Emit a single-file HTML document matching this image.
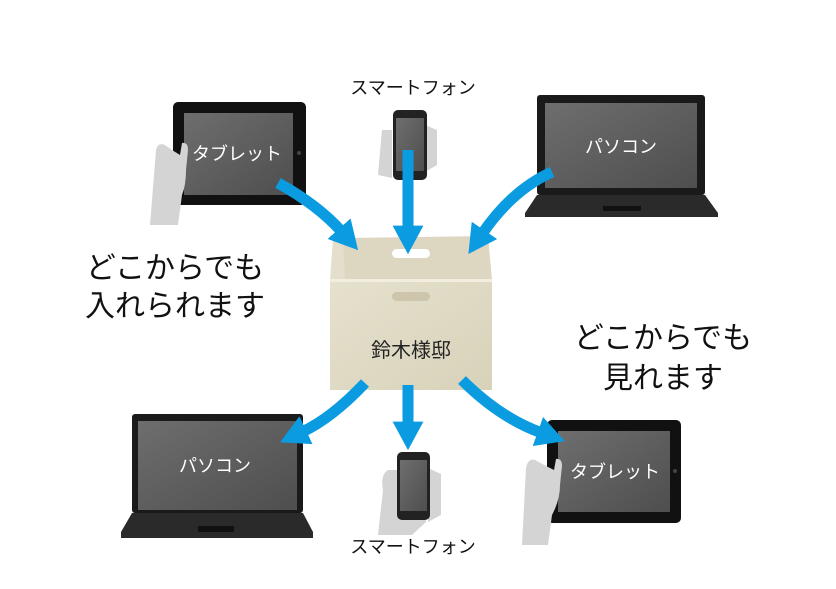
<!DOCTYPE html>
<html><head><meta charset="utf-8"><style>
html,body{margin:0;padding:0;background:#fff;}
svg{display:block}
text{font-family:"Liberation Sans","Noto Sans CJK JP",sans-serif;}
</style></head><body>
<svg width="836" height="589" viewBox="0 0 836 589" xmlns="http://www.w3.org/2000/svg">
<defs>
<linearGradient id="scr" x1="0" y1="0" x2="1" y2="1"><stop offset="0" stop-color="#6e6e6e"/><stop offset="1" stop-color="#4e4e4e"/></linearGradient>
<linearGradient id="box" x1="0" y1="0" x2="1" y2="1"><stop offset="0" stop-color="#e6e1cd"/><stop offset="1" stop-color="#d8d2ba"/></linearGradient>
<marker id="ah" markerWidth="2.6" markerHeight="2.8" refX="0.4" refY="1.4" orient="auto" markerUnits="strokeWidth"><path d="M0,0 L2.6,1.4 L0,2.8 z" fill="#0b9be0"/></marker>
</defs>

<!-- Top tablet -->
<rect x="173" y="102" width="133" height="103" rx="5" fill="#111"/>
<rect x="184" y="113" width="109" height="82" fill="url(#scr)"/>
<circle cx="299" cy="153" r="2" fill="#444"/>
<path d="M165,145 Q158,142 156,150 L150,225 L178,225 L182,195 Q186,185 186,170 L188,150 Q188,142 182,143 L180,155 L172,150 Z" fill="#d4d4d4"/>
<text x="237" y="160" font-size="18" fill="#fff" text-anchor="middle">タブレット</text>

<!-- Top phone -->
<path d="M382,130 L378,175 L392,178 L392,130 Z" fill="#d4d4d4"/>
<path d="M425,125 L437,130 L437,165 L425,172 Z" fill="#d4d4d4"/>
<rect x="393" y="110" width="34" height="70" rx="5" fill="#222"/>
<rect x="396" y="118" width="28" height="53" fill="url(#scr)"/>
<text x="413" y="94" font-size="18" fill="#111" text-anchor="middle">スマートフォン</text>

<!-- Top laptop -->
<rect x="537" y="95" width="168" height="100" rx="3" fill="#1a1a1a"/>
<rect x="545" y="103" width="152" height="85" fill="url(#scr)"/>
<path d="M537,195 L705,195 L718,213 L718,217 L525,217 L525,213 Z" fill="#2a2a2a"/>
<rect x="603" y="206" width="38" height="5" fill="#111"/>
<text x="621" y="153" font-size="18" fill="#fff" text-anchor="middle">パソコン</text>

<!-- Box -->
<path d="M343,238 L488,236 L492,280 L330,280 Z" fill="#ddd7c2"/>
<path d="M333,238 L343,238 L345,280 L330,280 Z" fill="#e4dfcc"/>
<rect x="392" y="249" width="38" height="9" rx="4.5" fill="#fff"/>
<rect x="330" y="280" width="162" height="110" fill="url(#box)"/>
<rect x="330" y="279" width="162" height="3" fill="#f1eee0"/>
<rect x="392" y="292" width="38" height="9" rx="4.5" fill="#cdc6ad"/>
<text x="411" y="357" font-size="20" fill="#222" text-anchor="middle">鈴木様邸</text>

<!-- Text -->
<text x="175" y="278" font-size="30" fill="#111" text-anchor="middle">どこからでも</text>
<text x="175" y="316" font-size="30" fill="#111" text-anchor="middle">入れられます</text>
<text x="663" y="348" font-size="30" fill="#111" text-anchor="middle">どこからでも</text>
<text x="663" y="388" font-size="30" fill="#111" text-anchor="middle">見れます</text>

<!-- Bottom laptop -->
<rect x="132" y="414" width="171" height="99" rx="3" fill="#1a1a1a"/>
<rect x="138" y="421" width="159" height="89" fill="url(#scr)"/>
<path d="M132,513 L303,513 L313,532 L313,538 L121,538 L121,532 Z" fill="#2a2a2a"/>
<rect x="198" y="526" width="36" height="6" fill="#111"/>
<text x="215" y="472" font-size="18" fill="#fff" text-anchor="middle">パソコン</text>

<!-- Bottom phone -->
<path d="M388,470 Q380,475 383,490 L378,535 L412,535 L426,522 L425,470 Z" fill="#d4d4d4"/>
<path d="M428,468 L441,474 L441,515 L428,522 Z" fill="#d4d4d4"/>
<rect x="397" y="452" width="33" height="68" rx="5" fill="#222"/>
<rect x="400" y="460" width="27" height="51" fill="url(#scr)"/>
<text x="413" y="553" font-size="18" fill="#111" text-anchor="middle">スマートフォン</text>

<!-- Bottom tablet -->
<rect x="547" y="420" width="134" height="103" rx="5" fill="#111"/>
<rect x="558" y="431" width="112" height="81" fill="url(#scr)"/>
<circle cx="675" cy="471" r="2" fill="#444"/>
<path d="M535,460 Q528,458 526,468 L522,545 L548,545 L552,515 Q560,500 560,485 L562,466 Q562,458 556,459 L554,470 L546,466 Z" fill="#d4d4d4"/>
<text x="615" y="478" font-size="18" fill="#fff" text-anchor="middle">タブレット</text>

<!-- Arrows -->
<g stroke="#0b9be0" stroke-width="11" fill="none" marker-end="url(#ah)">
<path d="M278,183 Q318,205 342,232"/>
<path d="M408,150 L408,230"/>
<path d="M552,172 Q512,190 482,234"/>
<path d="M365,383 Q332,418 302,432"/>
<path d="M408,385 L408,426"/>
<path d="M462,380 Q500,418 542,433"/>
</g>
</svg>
</body></html>
